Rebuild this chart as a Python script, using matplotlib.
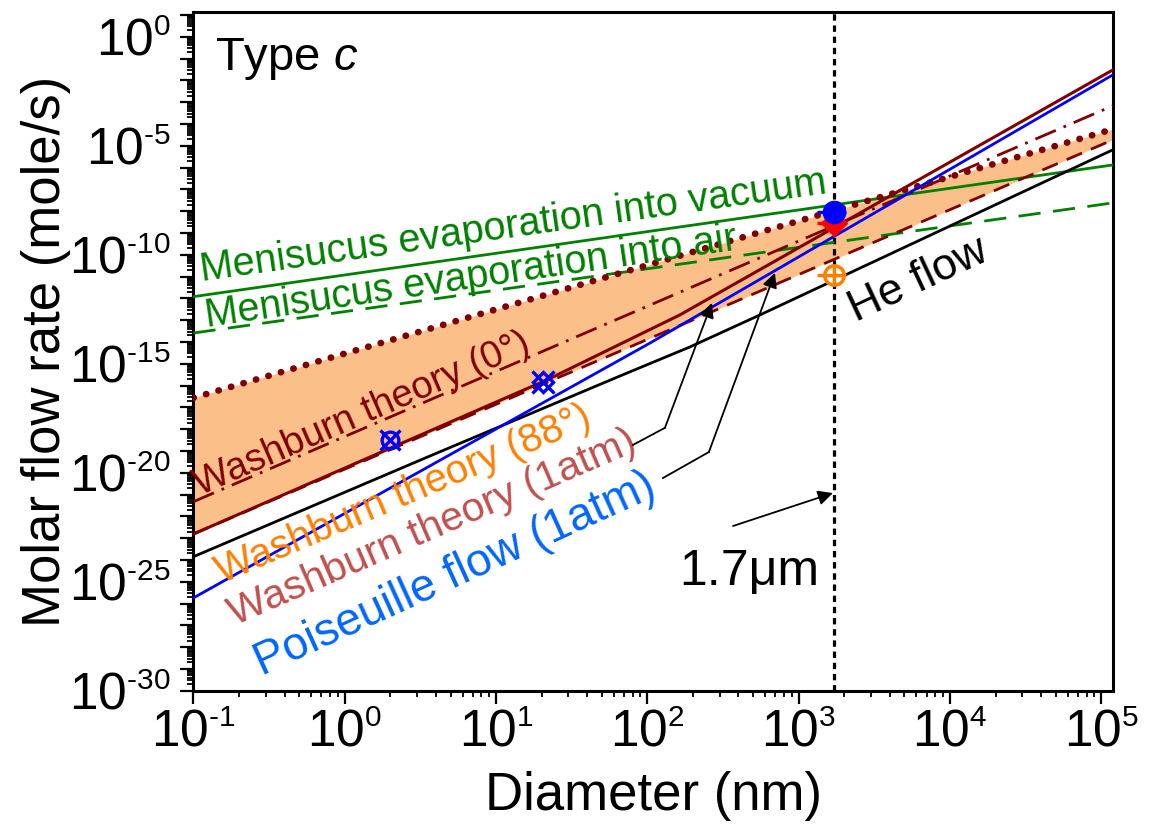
import numpy as np
import matplotlib
matplotlib.use("Agg")
import matplotlib.pyplot as plt
import matplotlib._mathtext as mathtext_impl
from matplotlib.ticker import FixedLocator, LogLocator, FuncFormatter, NullFormatter

plt.rcParams["font.family"] = ["Liberation Sans", "DejaVu Sans"]
plt.rcParams["mathtext.fontset"] = "custom"
plt.rcParams["mathtext.rm"] = "Liberation Sans"
plt.rcParams["mathtext.it"] = "Liberation Sans:italic"
# smaller exponents on the power-of-ten tick labels
mathtext_impl.SHRINK_FACTOR = 0.58

# ---------------- data (diameter in nm, molar flow rate in mole/s) ----------------
d_span = [0.1, 1.19e5]
evap_vacuum = [1.2e-12, 1.32e-6]
evap_air = [2.57e-14, 2.4e-8]
wash_dotted = [2.75e-17, 5.75e-5]
wash_dashdot = [4.7e-22, 6.8e-4]
wash_dashed = [1.55e-23, 1.86e-5]

d_wash_1atm = [0.1, 21.7, 164, 1.19e5]
wash_1atm = [1.55e-23, 1.82e-16, 1.74e-13, 3.0e-2]

d_poiseuille = [0.1, 104, 1.19e5]
poiseuille = [1.82e-26, 8.9e-15, 1.78e-2]

d_helium = [0.1, 3.66, 65.9, 191, 555, 1.19e5]
helium = [1.41e-24, 5.9e-20, 2.75e-16, 5.9e-15, 1.74e-13, 6.5e-6]

d_crit = 1700.0

# measured points
d_exp_small = [2.0]
q_exp_small = [3.2e-19]
d_exp_mid = [20.4]
q_exp_mid = [1.48e-16]
d_exp_big = [1700.0]
q_exp_vac = [9.5e-9]
q_exp_red = [2.9e-9]
q_exp_orange = [1.17e-11]
d_exp_err = [370.0]

x_ticks = [0.1, 1, 10, 100, 1e3, 1e4, 1e5]
y_ticks = [10.0 ** k for k in range(-30, 2)]

# ---------------- figure ----------------
fig = plt.figure(figsize=(11.49, 8.34), dpi=100)
ax = fig.add_axes([0.1684, 0.1718, 0.8000, 0.8141])
ax.set_xscale("log")
ax.set_yscale("log")
ax.set_xlim(0.1, 1.19e5)
ax.set_ylim(1e-30, 14.1)

GREEN = "#008000"
MAROON = "#800000"
ORANGE = "#FF8000"
BLUE = "#0000FF"

ax.fill_between(d_span, wash_dotted, wash_dashed, color="#FBC08A", lw=0, zorder=1)

ax.plot(d_span, evap_vacuum, color=GREEN, lw=2.0, zorder=3)
ax.plot(d_span, evap_air, color=GREEN, lw=2.0, ls=(0, (8, 4.5)), zorder=3)
ax.plot(d_span, wash_dotted, color=MAROON, lw=4.8, ls=(0, (0.05, 1.9)),
        dash_capstyle="round", zorder=3)
ax.plot(d_span, wash_dashdot, color=MAROON, lw=2.0, ls=(0, (8, 3, 1, 3)), zorder=3)
ax.plot(d_span, wash_dashed, color=MAROON, lw=2.0, ls=(0, (6, 3.5)), zorder=3)
ax.plot(d_helium, helium, color="black", lw=2.0, zorder=3)
ax.plot(d_wash_1atm, wash_1atm, color=MAROON, lw=2.2, zorder=4)
ax.plot(d_poiseuille, poiseuille, color=BLUE, lw=2.0, zorder=4)

ax.axvline(d_crit, color="black", lw=2.3, ls=(0, (2, 1.5)), zorder=2)

# measured points
ax.plot(d_exp_small, q_exp_small, ls="none", marker="o", ms=12, mfc="none",
        mec=BLUE, mew=2.4, zorder=6)
ax.plot(d_exp_small, q_exp_small, ls="none", marker="x", ms=14,
        mec=BLUE, mew=2.4, zorder=6)
ax.plot(d_exp_mid, q_exp_mid, ls="none", marker="x", ms=16,
        mec=BLUE, mew=2.4, zorder=6)
ax.plot(d_exp_mid, q_exp_mid, ls="none", marker="D", ms=10, mfc="none",
        mec=BLUE, mew=2.4, zorder=6)
ax.errorbar(d_exp_big, q_exp_red, xerr=d_exp_err, fmt="D", ms=13, color="#FF0000",
            elinewidth=2.5, capsize=0, zorder=6)
ax.errorbar(d_exp_big, q_exp_vac, xerr=d_exp_err, fmt="o", ms=16, color=BLUE,
            elinewidth=2.5, capsize=0, zorder=7)
ax.errorbar(d_exp_big, q_exp_orange, xerr=d_exp_err, fmt="o", ms=14, mfc="white",
            mec=ORANGE, mew=2.5, color=ORANGE, elinewidth=2.5, capsize=0, zorder=7)
ax.plot(d_exp_big, q_exp_orange, ls="none", marker="+", ms=14, mec=ORANGE,
        mew=2.5, zorder=8)

# ---------------- annotations ----------------
def text_on(x, y, s, color, size, rot):
    ax.text(x, y, s, color=color, fontsize=size, rotation=rot,
            rotation_mode="anchor", ha="left", va="baseline", zorder=5)

text_on(0.114, 6.3e-12, "Menisucus evaporation into vacuum", GREEN, 28.5, 8.0)
text_on(0.123, 4.9e-14, "Menisucus evaporation into air", GREEN, 28.5, 8.3)
text_on(0.110, 8.7e-22, "Washburn theory (0°)", MAROON, 27.5, 23.5)
text_on(0.154, 7.9e-26, "Washburn theory (88°)", ORANGE, 29, 23.0)
text_on(0.188, 9.3e-28, "Washburn theory (1atm)", "#C0504D", 29.5, 23.5)
text_on(0.284, 4.8e-30, "Poiseuille flow (1atm)", "#0066FF", 33, 24.5)
text_on(2390, 8.3e-14, "He flow", "black", 32, 25)
ax.text(162, 7.1e-26, "1.7μm", fontsize=36, ha="left", va="baseline", zorder=5)
ax.text(0.0234, 0.914, r"Type $\mathit{c}$", fontsize=34, transform=ax.transAxes,
        ha="left", va="baseline")

arrow_paths = [
    [(80.4, 1.9e-19), (130.6, 1.15e-18), (267, 6.2e-13)],
    [(126.8, 5.75e-21), (255, 8.9e-20), (697, 1.48e-11)],
    [(368, 3.6e-23), (1683, 1.17e-21)],
]
for path in arrow_paths:
    if len(path) > 2:
        xs, ys = zip(*path[:-1])
        ax.plot(xs, ys, color="black", lw=1.3, zorder=5)
    ax.annotate("", xy=path[-1], xytext=path[-2],
                arrowprops=dict(arrowstyle="-|>", color="black", lw=1.3,
                                mutation_scale=22, shrinkA=0, shrinkB=0),
                zorder=5)

# ---------------- axes styling ----------------
def pow_label(v, pos):
    k = int(round(np.log10(v)))
    if k < 0:
        return r"$10^{\text{-}%d}$" % (-k)
    return r"$10^{%d}$" % k

def y_label(v, pos):
    k = int(round(np.log10(v)))
    if k % 5 != 0:
        return ""
    return pow_label(v, pos)

ax.xaxis.set_major_locator(FixedLocator(x_ticks))
ax.xaxis.set_major_formatter(FuncFormatter(pow_label))
ax.xaxis.set_minor_locator(LogLocator(base=10, subs=np.arange(2, 10), numticks=100))
ax.xaxis.set_minor_formatter(NullFormatter())
ax.yaxis.set_major_locator(FixedLocator(y_ticks))
ax.yaxis.set_major_formatter(FuncFormatter(y_label))
ax.yaxis.set_minor_locator(LogLocator(base=10, subs=np.arange(2, 10), numticks=100))
ax.yaxis.set_minor_formatter(NullFormatter())

ax.tick_params(which="major", direction="out", length=9.5, width=1.6, labelsize=37,
               top=False, right=False)
ax.tick_params(which="minor", direction="out", length=4.5, width=1.3,
               top=False, right=False)
ax.tick_params(axis="y", which="major", pad=7)
ax.tick_params(axis="x", which="major", pad=3)
for sp in ax.spines.values():
    sp.set_linewidth(2.2)

ax.set_xlabel("Diameter (nm)", fontsize=38, labelpad=10)
ax.set_ylabel("Molar flow rate (mole/s)", fontsize=38, labelpad=-1)

fig.savefig("out.png", dpi=100)
